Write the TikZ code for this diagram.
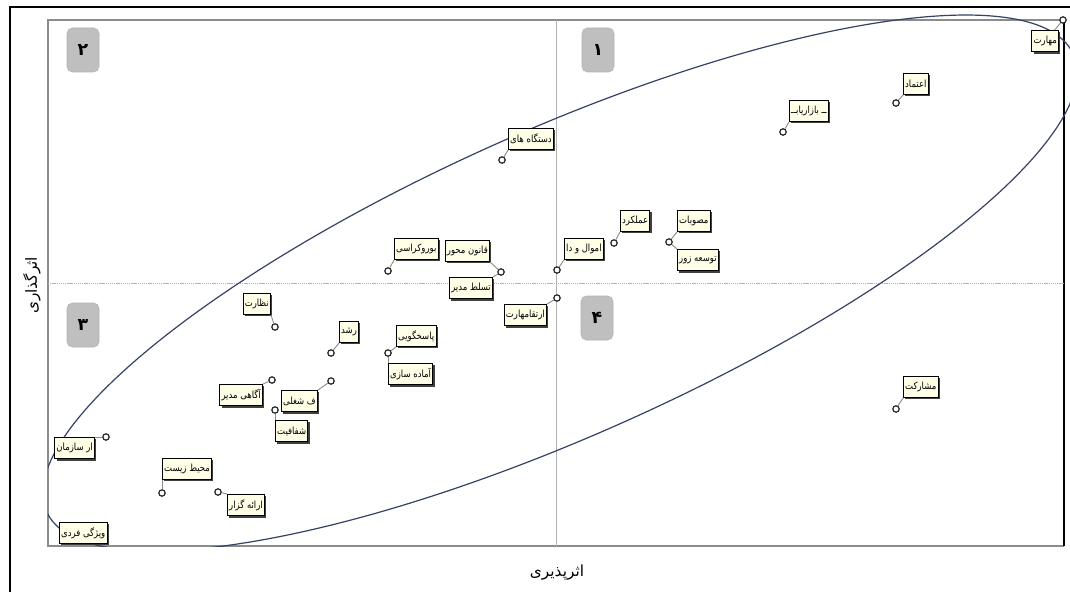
\documentclass[tikz,border=0pt]{standalone}
\usepackage{graphicx}
\usepackage{fontspec}
\newfontfamily\arabicfont[Script=Arabic]{DejaVu Sans}
\TeXXeTstate=1
\usetikzlibrary{shadows}
\newcommand{\fatxt}[1]{\arabicfont\beginR #1\endR}
\newcommand{\facname}[1]{\scalebox{0.86}[1]{\fatxt{#1}}}

\tikzset{
  fac/.style={draw=black, line width=0.7pt, fill=yellow!10, inner xsep=1.3pt, inner ysep=1pt,
    minimum height=16pt, font=\fontsize{7.4}{8}\selectfont,
    drop shadow={shadow xshift=1.4pt, shadow yshift=-1.4pt, fill=black!75, opacity=1}},
  fpt/.style={circle, draw=black!85, fill=white, line width=0.9pt, inner sep=0pt, minimum size=4.8pt},
  lnk/.style={draw=black!45, line width=0.7pt},
  quadbox/.style={draw=black!30, fill=black!25, rounded corners=4pt, minimum width=24pt,
    minimum height=33pt, font=\fontsize{13}{14}\selectfont\bfseries}
}

\begin{document}
\begin{tikzpicture}[x=0.75pt,y=0.75pt,yscale=-1,xscale=1]
\useasboundingbox (0,0) rectangle (1070,592);

%Outer frame
\draw [line width=1.5pt] (10,592) -- (10,7) -- (1070,7) ;

%Plot area
\draw [color=black!45, line width=0.8pt] (1064,20) -- (48,20) -- (48,546) -- (1064,546) ;
\draw [line width=1.3pt] (1064,20) -- (1064,546) ;

%Quadrant lines
\draw [color=black!30, line width=0.6pt] (556,20) -- (556,546) ;
\draw [color=black!30, line width=0.5pt, dash pattern={on 1pt off 0.6pt}] (48,283) -- (1064,283) ;

%Ellipse
\begin{scope}
\clip (48,0) rectangle (1070,546);
\draw [color={rgb, 255:red, 55; green, 65; blue, 100 }, line width=0.9pt, rotate around={-24:(560,283)}] (560,283) ellipse [x radius=562, y radius=153] ;
\end{scope}

%Quadrant numbers
\node [quadbox] (q1) at (598,50) {\fatxt{۱}};
\node [quadbox] (q2) at (83,50) {\fatxt{۲}};
\node [quadbox] (q3) at (83,325) {\fatxt{۳}};
\node [quadbox] (q4) at (597,318) {\fatxt{۴}};

%Points
\node [fpt] (pmahart) at (1063,20) {};
\node [fpt] (petemad) at (896,103) {};
\node [fpt] (pbazar) at (783,132) {};
\node [fpt] (pdastgah) at (502,160) {};
\node [fpt] (pamal) at (614,243) {};
\node [fpt] (pmosav) at (669,242) {};
\node [fpt] (pamval) at (557,270) {};
\node [fpt] (pghanoon) at (501,272) {};
\node [fpt] (pbureau) at (388,271) {};
\node [fpt] (pertegha) at (557,298) {};
\node [fpt] (ppasokh) at (388,353) {};
\node [fpt] (pnezarat) at (275,327) {};
\node [fpt] (proshd) at (331,353) {};
\node [fpt] (pagahi) at (272,380) {};
\node [fpt] (pshoghl) at (331,381) {};
\node [fpt] (pshafaf) at (275,410) {};
\node [fpt] (psazman) at (106,437) {};
\node [fpt] (pmohit) at (162,493) {};
\node [fpt] (pgozar) at (218,492) {};
\node [fpt] (pmoshar) at (896,409) {};

%Labels
\node [fac, anchor=north east] (mahart) at (1059,30) {\facname{مهارت}};
\node [fac, anchor=south west] (etemad) at (903,95) {\facname{اعتماد}};
\node [fac, anchor=south west] (bazar) at (789,122) {\facname{ــ بازاریابــ}};
\node [fac, anchor=south west] (dastgah) at (508,150) {\facname{دستگاه های}};
\node [fac, anchor=south west] (amal) at (620,232) {\facname{عملکرد}};
\node [fac, anchor=south west] (mosav) at (677,232) {\facname{مصوبات}};
\node [fac, anchor=north west] (tosee) at (677,249) {\facname{توسعه زور}};
\node [fac, anchor=south west] (amval) at (564,260) {\facname{اموال و دا}};
\node [fac, anchor=south east] (ghanoon) at (490,262) {\facname{قانون محور}};
\node [fac, anchor=south west] (bureau) at (394,260) {\facname{بوروکراسی}};
\node [fac, anchor=north east] (tasallot) at (493,277) {\facname{تسلط مدیر}};
\node [fac, anchor=north east] (ertegha) at (547,304) {\facname{ارتقامهارت}};
\node [fac, anchor=south west] (pasokh) at (396,347) {\facname{پاسخگویی}};
\node [fac, anchor=north west] (amadeh) at (388,363) {\facname{آماده سازی}};
\node [fac, anchor=south east] (nezarat) at (271,315) {\facname{نظارت}};
\node [fac, anchor=south west] (roshd) at (339,343) {\facname{رشد}};
\node [fac, anchor=north east] (agahi) at (263,384) {\facname{آگاهی مدیر}};
\node [fac, anchor=north east] (shoghl) at (318,390) {\facname{ف شغلی}};
\node [fac, anchor=north west] (shafaf) at (275,420) {\facname{شفافیت}};
\node [fac, anchor=north east] (sazman) at (95,437) {\facname{ار سازمان}};
\node [fac, anchor=south west] (mohit) at (162,480) {\facname{محیط زیست}};
\node [fac, anchor=north west] (gozar) at (227,494) {\facname{ارائه گزار}};
\node [fac, anchor=south west] (vizhegi) at (59,544) {\facname{ویژگی فردی}};
\node [fac, anchor=south west] (moshar) at (903,398) {\facname{مشارکت}};

%Links
\draw [lnk] (pmahart) -- (mahart) ;
\draw [lnk] (petemad) -- (etemad.south west) ;
\draw [lnk] (pbazar) -- (bazar.south west) ;
\draw [lnk] (pdastgah) -- (dastgah.south west) ;
\draw [lnk] (pamal) -- (amal.south west) ;
\draw [lnk] (pmosav) -- (mosav.south west) ;
\draw [lnk] (pmosav) -- (tosee.north west) ;
\draw [lnk] (pamval) -- (amval.south west) ;
\draw [lnk] (pghanoon) -- (ghanoon.south east) ;
\draw [lnk] (pghanoon) -- (tasallot.north east) ;
\draw [lnk] (pbureau) -- (bureau.south west) ;
\draw [lnk] (pertegha) -- (ertegha.north east) ;
\draw [lnk] (ppasokh) -- (pasokh.south west) ;
\draw [lnk] (ppasokh) -- (amadeh.north west) ;
\draw [lnk] (pnezarat) -- (nezarat.south east) ;
\draw [lnk] (proshd) -- (roshd.south west) ;
\draw [lnk] (pagahi) -- (agahi.north east) ;
\draw [lnk] (pshoghl) -- (shoghl.north east) ;
\draw [lnk] (pshafaf) -- (shafaf.north west) ;
\draw [lnk] (psazman) -- (sazman.north east) ;
\draw [lnk] (pmohit) -- (mohit.south west) ;
\draw [lnk] (pgozar) -- (gozar.north west) ;
\draw [lnk] (pmoshar) -- (moshar.south west) ;

%Axis titles
\node [font=\fontsize{11.5}{13}\selectfont] (xlab) at (557,573) {\fatxt{اثرپذیری}};
\node [font=\fontsize{11.5}{13}\selectfont, rotate=90] (ylab) at (32,285) {\fatxt{اثرگذاری}};

\end{tikzpicture}
\end{document}
